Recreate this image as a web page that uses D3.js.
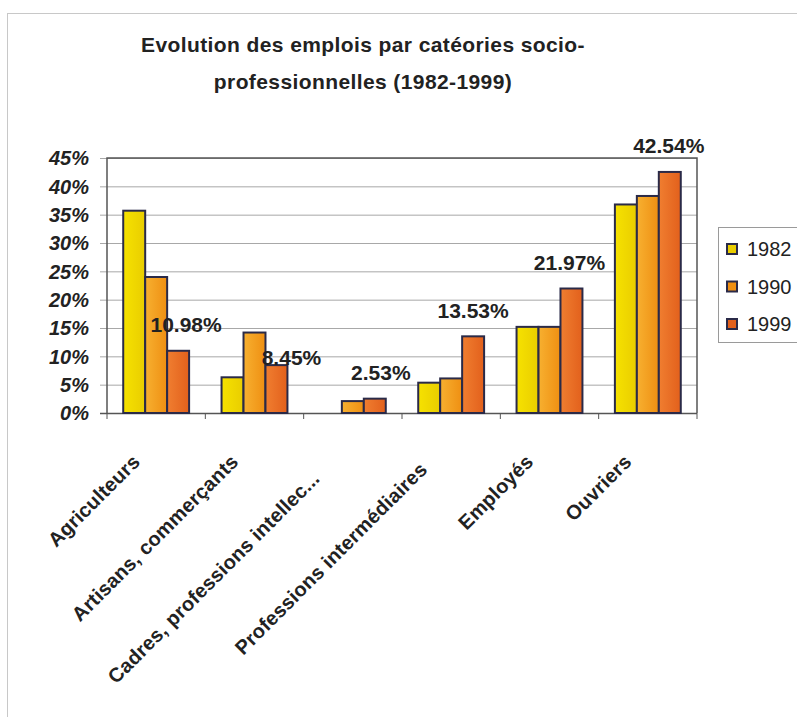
<!DOCTYPE html>
<html>
<head>
<meta charset="utf-8">
<script src="https://cdn.jsdelivr.net/npm/d3@7/dist/d3.min.js"></script>
<style>
    body { margin: 0; background: #ffffff; }
    svg { display: block; font-family: "Liberation Sans", Arial, sans-serif; }
</style>
</head>
<body>
<svg id="chart" width="797" height="717"></svg>
<script>
// chart values
var titleLines = ["Evolution des emplois par catéories socio-", "professionnelles (1982-1999)"];
var categories = ["Agriculteurs", "Artisans, commerçants", "Cadres, professions intellec...",
    "Professions intermédiaires", "Employés", "Ouvriers"];
var years = ["1982", "1990", "1999"];
var values1982 = [35.7, 6.3, null, 5.35, 15.2, 36.8];
var values1990 = [24.0, 14.2, 2.1, 6.1, 15.2, 38.3];
var values1999 = [10.98, 8.45, 2.53, 13.53, 21.97, 42.54];
var yTicks = [0, 5, 10, 15, 20, 25, 30, 35, 40, 45];

var seriesValues = [values1982, values1990, values1999];
var rows = [];
categories.forEach(function (c, i) {
    years.forEach(function (y, j) {
        rows.push({ category: c, year: y, value: seriesValues[j][i] });
    });
});

var svg = d3.select("svg#chart"),
    width = +svg.attr("width"),
    height = +svg.attr("height");

var plot = { left: 107, right: 697, top: 158, bottom: 413 };
var colors = {
    "1982": ["#f6e200", "#e9cd00"],
    "1990": ["#f7b030", "#ef8f12"],
    "1999": ["#f07e30", "#e2601c"]
};

// gradients like the excel fill
var defs = svg.append("defs");
years.forEach(function (y) {
    var g = defs.append("linearGradient").attr("id", "grad" + y)
        .attr("x1", "0%").attr("x2", "100%").attr("y1", "0%").attr("y2", "0%");
    g.append("stop").attr("offset", "0%").attr("stop-color", colors[y][0]);
    g.append("stop").attr("offset", "100%").attr("stop-color", colors[y][1]);
});

svg.append("rect").attr("width", width).attr("height", height).attr("fill", "#ffffff");
// outer chart frame (runs off the page on the right and bottom)
svg.append("rect")
    .attr("x", 7.5).attr("y", 13.5).attr("width", width).attr("height", height)
    .attr("fill", "none").attr("stroke", "#c8c8c8").attr("stroke-width", 1);

var x0 = d3.scaleBand()
    .domain(categories)
    .range([plot.left, plot.right])
    .paddingInner(0.33)
    .paddingOuter(0.165);
var x1 = d3.scaleBand()
    .domain(years)
    .range([0, x0.bandwidth()]);
var y = d3.scaleLinear()
    .domain([0, 45])
    .range([plot.bottom, plot.top]);

// title
svg.append("g").selectAll("text")
    .data(titleLines)
    .enter().append("text")
    .attr("x", 363)
    .attr("y", function (d, i) { return 52 + i * 37; })
    .attr("text-anchor", "middle")
    .attr("font-size", 21)
    .attr("font-weight", "bold")
    .attr("letter-spacing", 0.4)
    .attr("fill", "#222222")
    .text(function (d) { return d; });

// gridlines
svg.append("g").selectAll("line")
    .data(yTicks)
    .enter().append("line")
    .attr("x1", plot.left - 7).attr("x2", plot.right)
    .attr("y1", function (d) { return y(d) + 0.5; })
    .attr("y2", function (d) { return y(d) + 0.5; })
    .attr("stroke", function (d) { return d === 0 ? "#555555" : "#a8a8a8"; })
    .attr("stroke-width", function (d) { return d === 0 ? 1.5 : 1; });

// plot frame
svg.append("path")
    .attr("d", "M" + plot.left + "," + plot.bottom + "V" + plot.top + "H" + plot.right + "V" + plot.bottom)
    .attr("fill", "none").attr("stroke", "#555555").attr("stroke-width", 1.5);

// y axis labels
svg.append("g").selectAll("text")
    .data(yTicks)
    .enter().append("text")
    .attr("x", 89)
    .attr("y", function (d) { return y(d); })
    .attr("dy", "0.36em")
    .attr("text-anchor", "end")
    .attr("font-size", 20)
    .attr("font-weight", "bold")
    .attr("font-style", "italic")
    .attr("fill", "#222222")
    .text(function (d) { return d + "%"; });

// x ticks at the category boundaries
var step = x0.step();
var boundaries = categories.map(function (c) { return x0(c) - step * x0.paddingInner() / 2; });
boundaries.push(plot.right);
svg.append("g").selectAll("line")
    .data(boundaries)
    .enter().append("line")
    .attr("x1", function (d) { return d; }).attr("x2", function (d) { return d; })
    .attr("y1", plot.bottom).attr("y2", plot.bottom + 6)
    .attr("stroke", "#555555").attr("stroke-width", 1);

// bars
svg.append("g").selectAll("rect")
    .data(rows.filter(function (d) { return d.value !== null; }))
    .enter().append("rect")
    .attr("x", function (d) { return x0(d.category) + x1(d.year); })
    .attr("y", function (d) { return y(d.value); })
    .attr("width", x1.bandwidth())
    .attr("height", function (d) { return y(0) - y(d.value); })
    .attr("fill", function (d) { return "url(#grad" + d.year + ")"; })
    .attr("stroke", "#2a2a48")
    .attr("stroke-width", 2);

// data labels on the 1999 series, some were dragged in the original
var labelNudge = [[8, 0], [15, 18], [6, 0], [0, 0], [-2, 0], [-1, 0]];
svg.append("g").selectAll("text")
    .data(values1999)
    .enter().append("text")
    .attr("x", function (d, i) { return x0(categories[i]) + x1("1999") + x1.bandwidth() / 2 + labelNudge[i][0]; })
    .attr("y", function (d, i) { return y(d) - 18.5 + labelNudge[i][1]; })
    .attr("text-anchor", "middle")
    .attr("font-size", 21)
    .attr("font-weight", "bold")
    .attr("fill", "#222222")
    .text(function (d) { return d3.format(".2f")(d) + "%"; });

// category labels, rotated
var labelShift = [0, 0, -24, -11, 0, 0];
svg.append("g").selectAll("text")
    .data(categories)
    .enter().append("text")
    .attr("transform", function (d) {
        return "translate(" + (x0(d) + x0.bandwidth() / 2 - 15) + "," + 463 + ") rotate(-45)";
    })
    .attr("dx", function (d, i) { return labelShift[i]; })
    .attr("text-anchor", "end")
    .attr("font-size", 20)
    .attr("font-weight", "bold")
    .attr("letter-spacing", 0.2)
    .attr("fill", "#222222")
    .text(function (d) { return d; });

// legend
var legend = svg.append("g");
legend.append("rect")
    .attr("x", 718.5).attr("y", 227.5).attr("width", 120).attr("height", 115)
    .attr("fill", "#ffffff").attr("stroke", "#9a9a9a").attr("stroke-width", 1);
var item = legend.selectAll("g")
    .data(years)
    .enter().append("g")
    .attr("transform", function (d, i) { return "translate(0," + (249 + i * 37.5) + ")"; });
item.append("rect")
    .attr("x", 727).attr("y", -5).attr("width", 10).attr("height", 10)
    .attr("fill", function (d) { return colors[d][1]; })
    .attr("stroke", "#2a2a48").attr("stroke-width", 2);
item.append("text")
    .attr("x", 747).attr("dy", "0.36em")
    .attr("font-size", 20)
    .attr("fill", "#222222")
    .text(function (d) { return d; });
</script>
</body>
</html>
